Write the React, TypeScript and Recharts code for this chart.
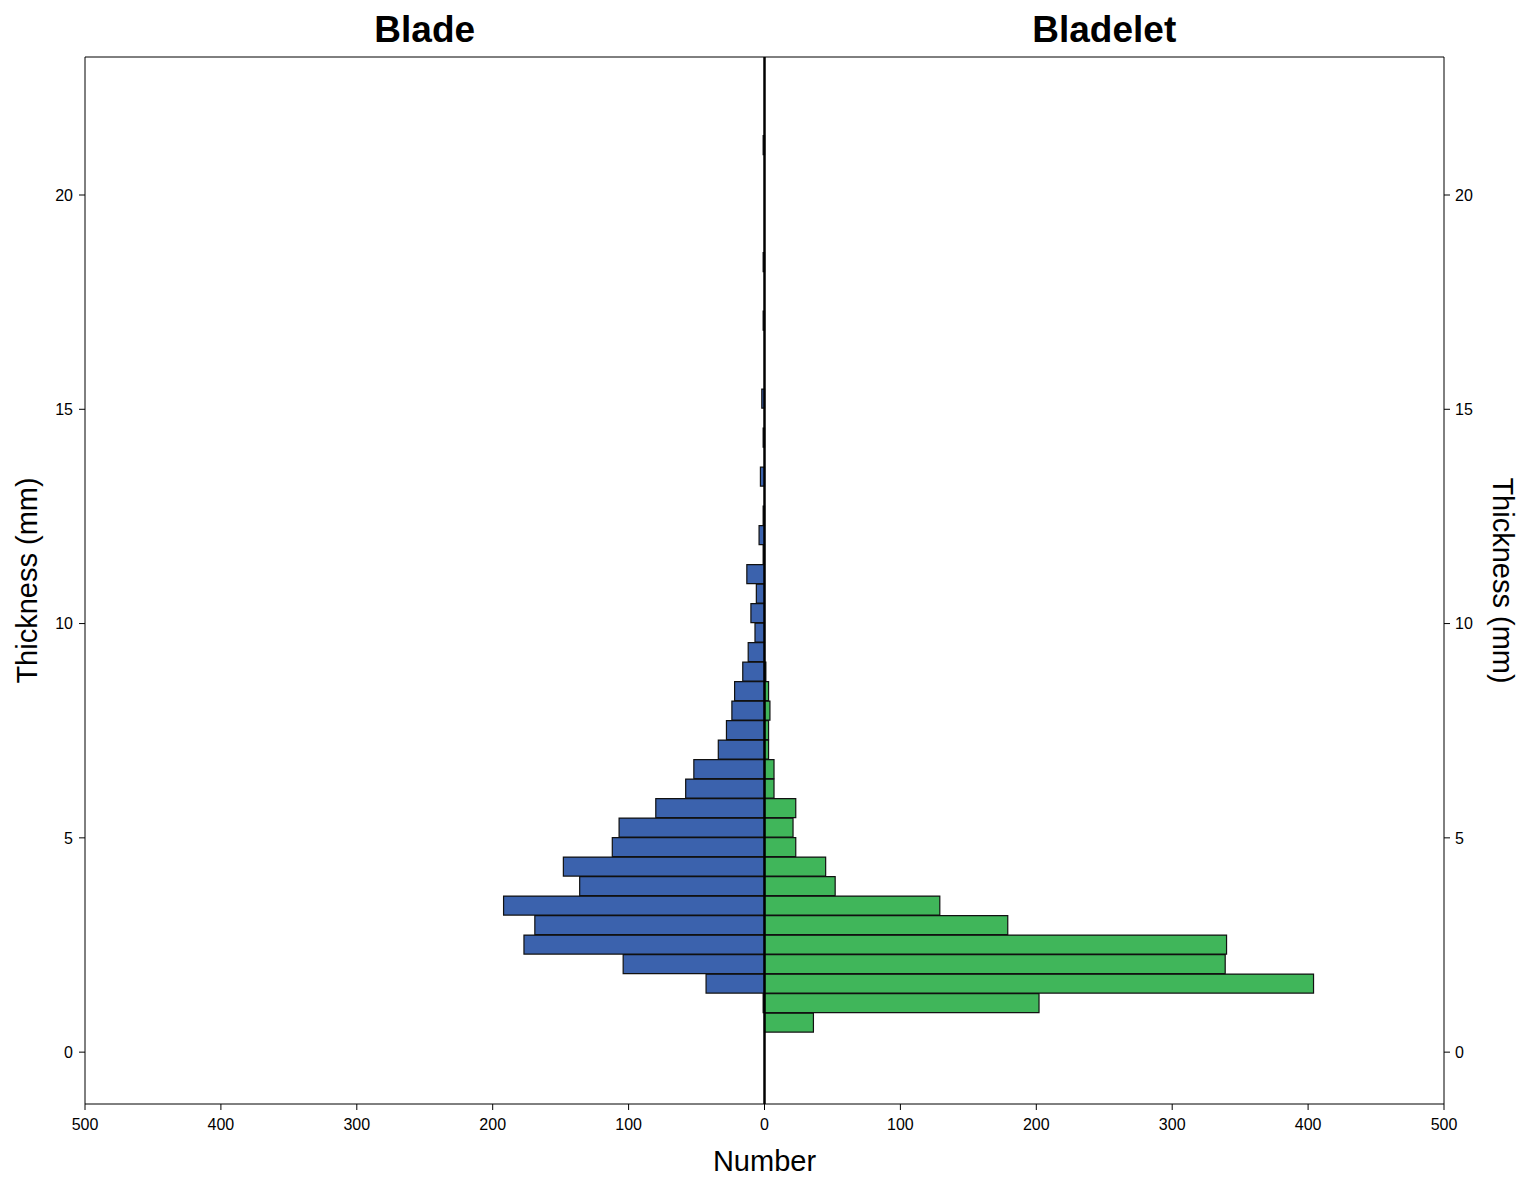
import { BarChart, Bar, XAxis, YAxis, ReferenceLine } from "recharts";

// bin centres (mm), bin width ~0.455 mm
const thickness = [
  0.683, 1.138, 1.593, 2.048, 2.503, 2.958, 3.413, 3.868, 4.323, 4.778, 5.233, 5.688,
  6.143, 6.598, 7.053, 7.508, 7.963, 8.418, 8.873, 9.328, 9.783, 10.238, 10.693, 11.148,
  11.603, 12.058, 12.513, 12.968, 13.423, 13.878, 14.333, 14.788, 15.243, 15.698, 16.153,
  16.608, 17.063, 17.518, 17.973, 18.428, 18.883, 19.338, 19.793, 20.248, 20.703, 21.158,
];

const blade = [
  0, 1, 43, 104, 177, 169, 192, 136, 148, 112, 107, 80,
  58, 52, 34, 28, 24, 22, 16, 12, 7, 10, 6, 13,
  1, 4, 1, 0, 3, 0, 1, 0, 2, 0, 0,
  0, 1, 0, 0, 1, 0, 0, 0, 0, 0, 1,
];

const bladelet = [
  36, 202, 404, 339, 340, 179, 129, 52, 45, 23, 21, 23,
  7, 7, 3, 3, 4, 3, 1, 0, 0, 0, 0, 0,
  0, 0, 0, 0, 0, 0, 0, 0, 0, 0, 0,
  0, 0, 0, 0, 0, 0, 0, 0, 0, 0, 0,
];

const groupTitles = ["Blade", "Bladelet"];
const numberTicks = [-500, -400, -300, -200, -100, 0, 100, 200, 300, 400, 500];
const thicknessTicks = [0, 5, 10, 15, 20];

const rows = thickness.map((t, i) => ({
  thickness: t,
  blade: -blade[i],
  bladelet: bladelet[i],
}));

const font = "'Liberation Sans', Arial, sans-serif";
const tickStyle = { fill: "#000", fontSize: 16, fontFamily: font };
const labelStyle = { fill: "#000", fontSize: 29, fontFamily: font };

export default function App() {
  return (
    <div style={{ position: "absolute", left: 0, top: 0, width: 1521, height: 1177, background: "#fff" }}>
      <BarChart
        width={1521}
        height={1177}
        data={rows}
        layout="vertical"
        stackOffset="sign"
        barCategoryGap={0}
        margin={{ top: 0, right: 0, bottom: 0, left: 0 }}
      >
        <XAxis
          xAxisId="bottom"
          type="number"
          orientation="bottom"
          domain={[-500, 500]}
          ticks={numberTicks}
          tickFormatter={(v: number) => String(Math.abs(v))}
          height={73}
          tickSize={6}
          tickMargin={9}
          stroke="#000"
          tick={tickStyle}
          label={{ value: "Number", position: "center", dy: 20, style: labelStyle }}
        />
        <XAxis
          xAxisId="top"
          type="number"
          orientation="top"
          domain={[-500, 500]}
          allowDataOverflow
          ticks={[-250, 250]}
          tickFormatter={(v: number) => (v < 0 ? groupTitles[0] : groupTitles[1])}
          height={57}
          tickLine={false}
          tickSize={0}
          tickMargin={15}
          stroke="#000"
          tick={{ fill: "#000", fontSize: 37, fontWeight: "bold", fontFamily: font }}
        />
        <YAxis
          yAxisId="left"
          type="number"
          dataKey="thickness"
          orientation="left"
          reversed
          domain={[-1.21, 23.22]}
          ticks={thicknessTicks}
          allowDataOverflow
          width={85}
          tickSize={6}
          tickMargin={6}
          stroke="#000"
          tick={tickStyle}
          label={{ value: "Thickness (mm)", angle: -90, position: "center", dx: -16, style: labelStyle }}
        />
        <YAxis
          yAxisId="right"
          type="number"
          dataKey="thickness"
          orientation="right"
          reversed
          domain={[-1.21, 23.22]}
          ticks={thicknessTicks}
          allowDataOverflow
          width={77}
          tickSize={6}
          tickMargin={5}
          stroke="#000"
          tick={tickStyle}
          label={{ value: "Thickness (mm)", angle: 90, position: "center", dx: 21, style: labelStyle }}
        />
        <Bar
          dataKey="blade"
          stackId="s"
          xAxisId="bottom"
          yAxisId="left"
          fill="#3B62AD"
          stroke="#111"
          strokeWidth={1.2}
          isAnimationActive={false}
        />
        <Bar
          dataKey="bladelet"
          stackId="s"
          xAxisId="bottom"
          yAxisId="left"
          fill="#40B65A"
          stroke="#111"
          strokeWidth={1.2}
          isAnimationActive={false}
        />
        <ReferenceLine x={0} xAxisId="bottom" yAxisId="left" stroke="#000" strokeWidth={2.5} />
      </BarChart>
    </div>
  );
}
